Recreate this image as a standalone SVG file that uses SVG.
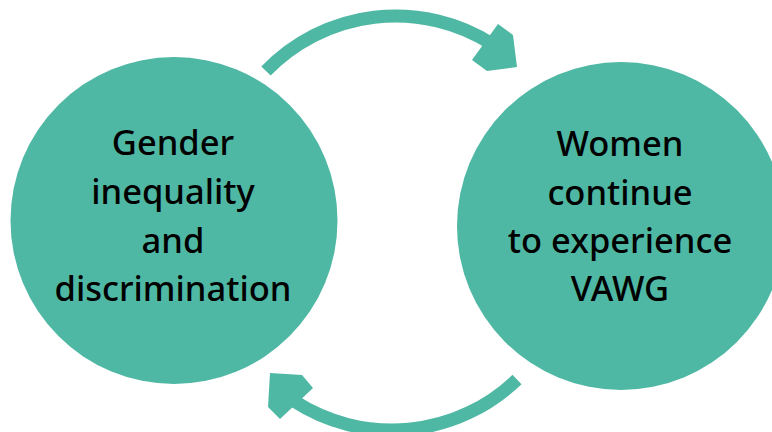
<svg xmlns="http://www.w3.org/2000/svg" width="772" height="432" viewBox="0 0 772 432">
  <style>
    .node { fill: #4EB8A4; }
    .label { font-family: "Noto Sans", "Open Sans", sans-serif; font-size: 34.5px; font-weight: 500; fill: #000; text-anchor: middle; }
    .arc { fill: none; stroke: #4EB8A4; stroke-width: 13; stroke-linecap: butt; }
    .head { fill: #4EB8A4; }
  </style>
  <rect width="772" height="432" fill="#fff"/>

  <g id="connectors">
    <g id="arrow-top">
      <path class="arc" d="M266,71 A180,180 0 0 1 492,44"/>
      <polygon class="head" points="498,24 513,35 517,67 487,71 472,60"/>
    </g>
    <g id="arrow-bottom">
      <path class="arc" d="M517,379.5 A180,180 0 0 1 294,401"/>
      <polygon class="head" points="270,373 302,375 313,388 280,419 268,407"/>
    </g>
  </g>

  <g id="node-gender">
    <circle class="node" cx="174" cy="220.5" r="163.5"/>
    <text class="label" x="173" y="155">Gender</text>
    <text class="label" x="173" y="204">inequality</text>
    <text class="label" x="173" y="253">and</text>
    <text class="label" x="173" y="301">discrimination</text>
  </g>

  <g id="node-vawg">
    <circle class="node" cx="621" cy="226" r="164"/>
    <text class="label" x="620" y="156">Women</text>
    <text class="label" x="620" y="205">continue</text>
    <text class="label" x="620" y="253">to experience</text>
    <text class="label" x="620" y="301">VAWG</text>
  </g>
</svg>
